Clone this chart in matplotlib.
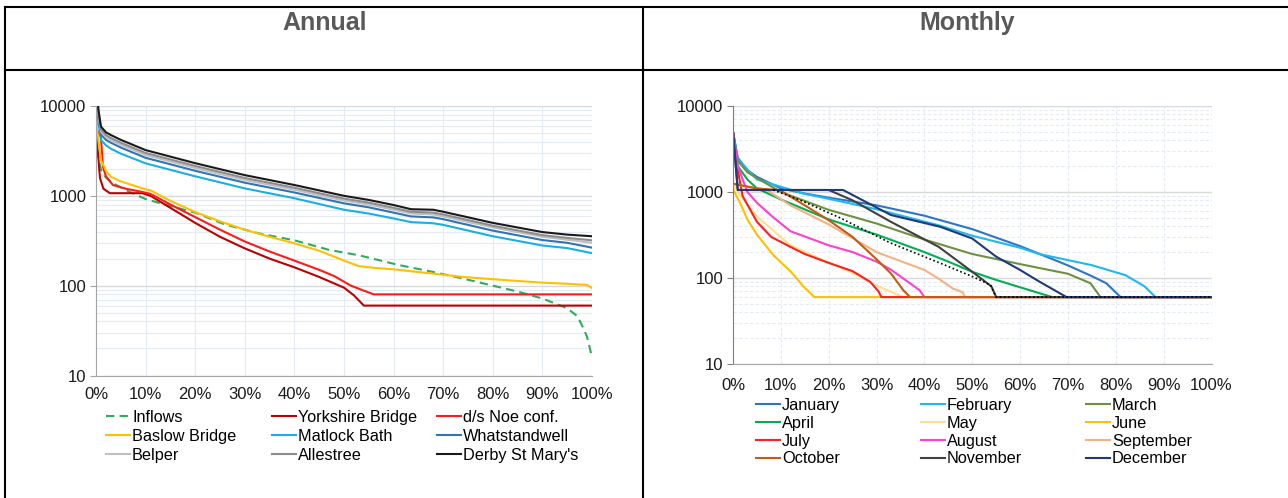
import matplotlib
matplotlib.use("Agg")
import matplotlib.pyplot as plt
from matplotlib.lines import Line2D
from matplotlib.ticker import (FixedLocator, FuncFormatter, PercentFormatter,
                               NullFormatter, LogLocator, MultipleLocator)

plt.rcParams['font.family'] = ['Liberation Sans', 'DejaVu Sans']

# ---- annual flow duration curves (percent of time exceeded, flow) ----
inflows_pct = [0, 0.5, 1, 2, 3, 6, 10, 15, 20, 26, 33, 40, 47, 53, 61, 68, 74, 80, 85, 90, 95, 97, 98, 99, 100]
inflows_q = [6500, 2600, 1940, 1600, 1420, 1160, 920, 770, 650, 480, 380, 320, 250, 218, 170, 142, 120, 100, 86, 72, 56, 46, 36, 27, 16]

yorks_pct = [0, 0.3, 0.8, 1.5, 2.8, 9.3, 11, 20, 25, 30, 35, 40, 45, 47, 50, 52, 54, 100]
yorks_q = [5000, 3500, 1575, 1200, 1070, 1070, 1000, 500, 350, 260, 200, 160, 125, 112, 95, 78, 60, 60]

noe_pct = [0, 1, 1.4, 2, 3.4, 6, 9.5, 11, 15, 20, 25, 30, 35, 40, 45, 48, 51.4, 54, 56, 100]
noe_q = [5700, 4500, 2100, 1650, 1320, 1200, 1100, 1050, 800, 580, 420, 310, 240, 190, 150, 128, 100, 88, 80, 80]

baslow_pct = [0, 0.3, 1, 2, 3, 5, 8, 10, 11, 15, 20, 25, 30, 35, 40, 45, 50, 53, 56, 60, 67, 74, 80, 90, 95, 99, 100]
baslow_q = [8000, 5000, 2500, 1900, 1630, 1450, 1280, 1180, 1150, 880, 660, 520, 420, 350, 296, 245, 190, 165, 158, 152, 138, 125, 118, 108, 105, 102, 94]

upper_pct = [0, 0.5, 1, 2, 3, 5, 10, 20, 30, 40, 50, 55, 60, 63.5, 68, 70, 80, 90, 95, 100]
matlock_q = [14000, 6500, 4200, 3650, 3350, 2950, 2300, 1650, 1210, 940, 700, 635, 560, 510, 495, 475, 355, 280, 262, 230]
whatstandwell_q = [17000, 7500, 4800, 4200, 3900, 3450, 2650, 1900, 1400, 1090, 825, 745, 650, 590, 575, 550, 410, 322, 300, 265]
belper_q = [18000, 8000, 5200, 4500, 4150, 3700, 2850, 2040, 1500, 1170, 885, 800, 700, 635, 620, 590, 445, 350, 325, 300]
allestree_q = [19000, 8500, 5500, 4750, 4400, 3900, 3000, 2150, 1580, 1230, 930, 840, 735, 665, 650, 620, 465, 365, 340, 320]
derby_q = [20000, 9000, 5900, 5100, 4750, 4200, 3230, 2310, 1700, 1320, 1000, 900, 790, 710, 700, 665, 500, 395, 370, 355]

# ---- monthly flow duration curves ----
jan_pct = [0, 1, 3, 5, 10, 15, 20, 30, 40, 50, 60, 70, 75, 78, 81, 100]
jan_q = [5000, 2500, 1800, 1500, 1100, 960, 860, 700, 530, 370, 235, 140, 105, 87, 60, 60]
feb_pct = [0, 1, 5, 10, 15, 22, 30, 43, 50, 60, 64, 75, 82, 86, 88.3, 100]
feb_q = [5000, 2400, 1400, 1150, 950, 790, 630, 410, 310, 225, 190, 141, 108, 80, 60, 60]
mar_pct = [0, 1, 3, 5, 10, 20, 30, 40, 50, 60, 70, 74.7, 76.8, 100]
mar_q = [5000, 2300, 1700, 1450, 1000, 620, 430, 280, 190, 145, 112, 87, 60, 60]
apr_pct = [0, 1, 3, 5, 10, 20, 30, 40, 45, 50, 55, 60, 66.7, 100]
apr_q = [5000, 2000, 1400, 1100, 820, 480, 320, 200, 155, 118, 95, 78, 60, 60]
may_pct = [0, 1, 5, 12, 20, 25, 29.3, 35.6, 100]
may_q = [1300, 1000, 520, 240, 150, 115, 85, 60, 60]
jun_pct = [0, 0.5, 1.5, 3, 5, 8.4, 12, 14.7, 17, 100]
jun_q = [1100, 950, 740, 480, 320, 185, 120, 80, 60, 60]
jul_pct = [0, 1, 2, 5, 8, 12, 15, 20, 25, 28.7, 30.4, 31, 100]
jul_q = [5000, 1800, 900, 450, 300, 230, 190, 150, 120, 90, 70, 60, 60]
aug_pct = [0, 1, 3, 5, 8, 12, 20, 25, 30, 33, 36.6, 39, 40, 100]
aug_q = [5000, 2000, 1000, 750, 530, 350, 240, 200, 155, 125, 90, 72, 60, 60]
sep_pct = [0, 3, 6, 7, 12, 20, 30, 40, 43, 46, 47, 48, 48.5, 100]
sep_q = [1250, 1150, 1080, 1060, 700, 420, 200, 124, 98, 75, 72, 68, 60, 60]
oct_pct = [0, 5, 9.8, 15, 20, 25, 30, 33, 35.6, 37, 100]
oct_q = [1250, 1100, 1050, 700, 470, 300, 165, 113, 72, 60, 60]
nov_pct = [0, 1, 20, 25, 33, 43, 50, 54, 55, 100]
nov_q = [5000, 1055, 1055, 800, 450, 230, 118, 80, 60, 60]
dec_pct = [0, 1, 23, 33, 43.3, 50, 55, 60, 64, 69.7, 100]
dec_q = [5000, 1055, 1055, 540, 394, 288, 177, 124, 91, 60, 60]
dotted_pct = [8.4, 14, 22.4, 32.8, 43.3, 50.2, 53.8, 55, 100]
dotted_q = [1055, 807, 500, 257, 149, 103, 83, 60, 60]

W, H = 1288, 498
fig = plt.figure(figsize=(W / 100, H / 100), dpi=100)


def fx(px):
    return px / W


def fy(py):
    return 1 - py / H


def frame_line(xs, ys):
    fig.add_artist(Line2D([fx(v) for v in xs], [fy(v) for v in ys],
                          color='black', lw=1.5, transform=fig.transFigure))


# table borders
frame_line([5, 1288], [7, 7])
frame_line([5, 1288], [70, 70])
frame_line([5, 5], [7, 498])
frame_line([643, 643], [7, 498])

fig.text(fx(325), fy(23), 'Annual', ha='center', va='center', fontsize=18,
         fontweight='bold', color='#595959')
fig.text(fx(967), fy(23), 'Monthly', ha='center', va='center', fontsize=18,
         fontweight='bold', color='#595959')


def style(ax, minor_ls, spine_col, xpad):
    ax.set_yscale('log')
    ax.set_ylim(10, 10000)
    ax.set_xlim(0, 100)
    ax.yaxis.set_major_locator(FixedLocator([10, 100, 1000, 10000]))
    ax.yaxis.set_major_formatter(FuncFormatter(lambda v, _: f'{v:g}'))
    ax.yaxis.set_minor_locator(LogLocator(subs=range(2, 10)))
    ax.yaxis.set_minor_formatter(NullFormatter())
    ax.xaxis.set_major_locator(MultipleLocator(10))
    ax.xaxis.set_major_formatter(PercentFormatter(xmax=100, decimals=0))
    ax.grid(which='major', axis='y', color='#D9D9D9', lw=1)
    ax.grid(which='minor', axis='y', color='#E4EBF4', lw=0.8, ls=minor_ls)
    ax.grid(which='major', axis='x', color='#E4EBF4', lw=0.8, ls=minor_ls)
    ax.tick_params(which='minor', length=0)
    ax.tick_params(axis='x', length=0, pad=xpad, labelsize=12, labelcolor='#1A1A1A')
    ax.tick_params(axis='y', which='major', length=4, width=0.8, color=spine_col,
                   pad=3, labelsize=12, labelcolor='#1A1A1A')
    for s in ['top', 'right']:
        ax.spines[s].set_visible(False)
    ax.spines['left'].set_color(spine_col)
    ax.spines['bottom'].set_color('#A6A6A6')
    ax.set_axisbelow(True)


def column_legend(handles, x_px, y_px, spacing):
    fig.legend(handles=handles, loc='upper left',
               bbox_to_anchor=(fx(x_px), fy(y_px)), frameon=False,
               borderpad=0, borderaxespad=0, handlelength=1.45,
               handletextpad=0.15, labelspacing=spacing, fontsize=11.7)


# ---- annual chart ----
ax1 = fig.add_axes([fx(96), fy(375.5), fx(592) - fx(96), fy(106) - fy(375.5)])
style(ax1, '-', '#A6A6A6', 8.5)
lw = 1.5
h_in, = ax1.plot(inflows_pct, inflows_q, color='#2EAD5B', lw=lw, ls=(0, (4, 2.5)), label='Inflows')
h_yb, = ax1.plot(yorks_pct, yorks_q, color='#C00000', lw=lw, label='Yorkshire Bridge')
h_noe, = ax1.plot(noe_pct, noe_q, color='#FF1A1A', lw=lw, label='d/s Noe conf.')
h_bas, = ax1.plot(baslow_pct, baslow_q, color='#FFC000', lw=lw, label='Baslow Bridge')
h_mat, = ax1.plot(upper_pct, matlock_q, color='#1AAEE8', lw=lw, label='Matlock Bath')
h_wha, = ax1.plot(upper_pct, whatstandwell_q, color='#2E75B6', lw=lw, label='Whatstandwell')
h_bel, = ax1.plot(upper_pct, belper_q, color='#BFBFBF', lw=lw, label='Belper')
h_all, = ax1.plot(upper_pct, allestree_q, color='#8C8C8C', lw=lw, label='Allestree')
h_der, = ax1.plot(upper_pct, derby_q, color='#1A1A1A', lw=lw, label="Derby St Mary's")

column_legend([h_in, h_bas, h_bel], 106, 410, 0.25)
column_legend([h_yb, h_mat, h_all], 272, 410, 0.25)
column_legend([h_noe, h_wha, h_der], 437, 410, 0.25)

# ---- monthly chart ----
ax2 = fig.add_axes([fx(733), fy(364), fx(1211.5) - fx(733), fy(106) - fy(364)])
style(ax2, (0, (3, 2)), '#7F7F7F', 10)
mh = []
for pct, q, col, name in [
        (jan_pct, jan_q, '#2E75C6', 'January'),
        (feb_pct, feb_q, '#1FB8F2', 'February'),
        (mar_pct, mar_q, '#6E9140', 'March'),
        (apr_pct, apr_q, '#00B050', 'April'),
        (may_pct, may_q, '#FFE08A', 'May'),
        (jun_pct, jun_q, '#FFC000', 'June'),
        (jul_pct, jul_q, '#FF1F1F', 'July'),
        (aug_pct, aug_q, '#FF3FD0', 'August'),
        (sep_pct, sep_q, '#F4B183', 'September'),
        (oct_pct, oct_q, '#C55A11', 'October'),
        (nov_pct, nov_q, '#404040', 'November'),
        (dec_pct, dec_q, '#1F3A7A', 'December')]:
    h, = ax2.plot(pct, q, color=col, lw=lw, label=name)
    mh.append(h)
ax2.plot(dotted_pct, dotted_q, color='black', lw=1.2, ls=(0, (1, 1.5)))

column_legend([mh[0], mh[3], mh[6], mh[9]], 756, 398, 0.17)
column_legend([mh[1], mh[4], mh[7], mh[10]], 921, 398, 0.17)
column_legend([mh[2], mh[5], mh[8], mh[11]], 1086, 398, 0.17)

fig.savefig('out.png', dpi=100)
